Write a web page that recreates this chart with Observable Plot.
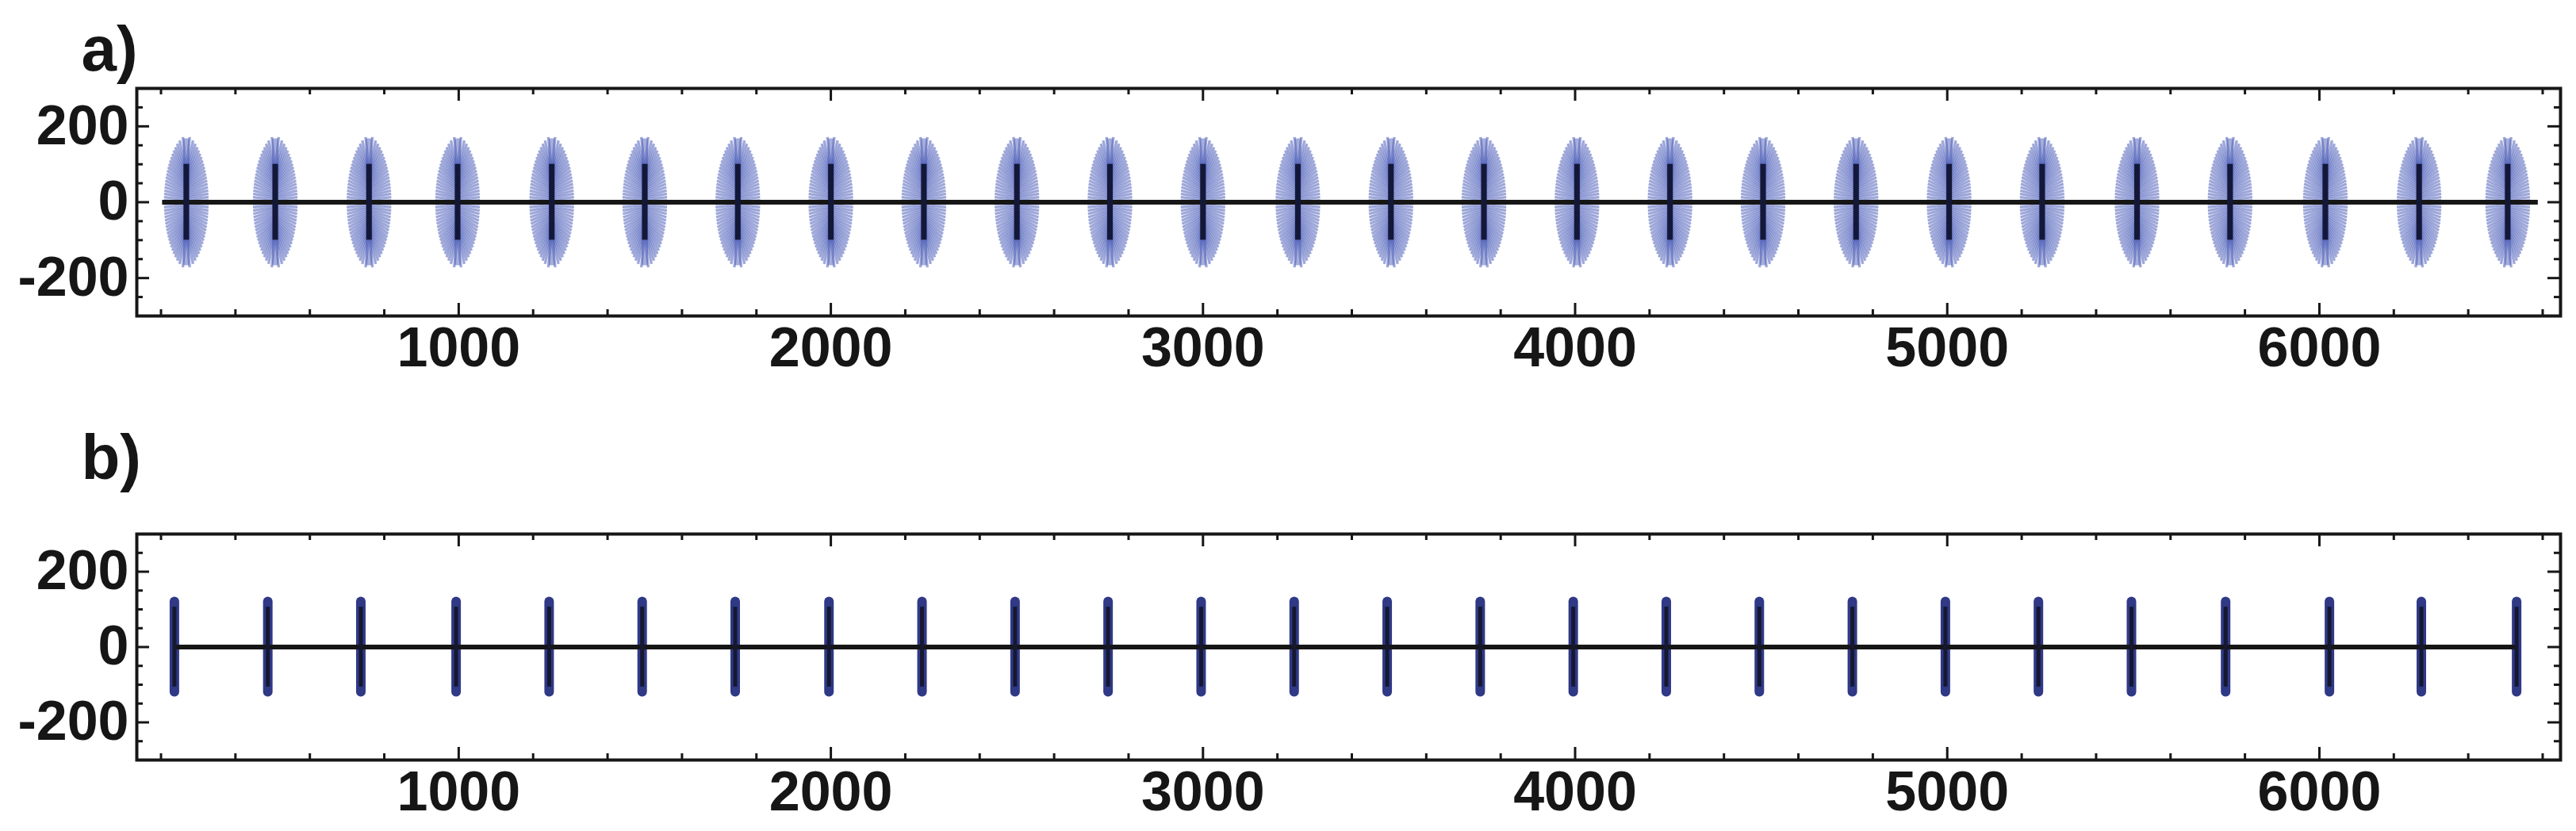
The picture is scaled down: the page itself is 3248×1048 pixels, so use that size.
<!DOCTYPE html>
<html>
<head>
<meta charset="utf-8">
<script src="https://cdn.jsdelivr.net/npm/d3@7"></script>
<script src="https://cdn.jsdelivr.net/npm/@observablehq/plot@0.6"></script>
<style>
  html, body { margin: 0; padding: 0; background: #ffffff; }
  #chart { width: 3248px; height: 1048px; overflow: hidden; background: #ffffff; }
  #chart svg { display: block; }
</style>
</head>
<body>
<div id="chart"></div>
<script>
// ---------- data ----------
const panelLabels = ["a)", "b)"];
const xDomain = [135, 6648];
const yDomain = [-300, 300];
const xMajorTicks = [1000, 2000, 3000, 4000, 5000, 6000];
const xMinorTicks = [200, 400, 600, 800, 1200, 1400, 1600, 1800, 2200, 2400, 2600, 2800,
  3200, 3400, 3600, 3800, 4200, 4400, 4600, 4800, 5200, 5400, 5600, 5800, 6200, 6400, 6600];
const yMajorTicks = [-200, 0, 200];
const yMinorTicks = [-250, -150, -100, -50, 50, 100, 150, 250];

// panel a: centres of the fans (x), fan half height / half width, stem half length
const centersA = [268, 507, 759, 997, 1250, 1500, 1750, 2000, 2250, 2500, 2750, 3000, 3255,
  3505, 3755, 4005, 4255, 4505, 4755, 5005, 5255, 5510, 5760, 6016, 6268, 6506];
const fanHalfHeight = 176;
const fanHalfWidth = 60;
const stemA = 100;
const baseLineA = [204, 6588];

// panel b: spike centres (x), spike half length, stem half length
const centersB = [236, 487, 737, 993, 1243, 1493, 1743, 1995, 2245, 2495, 2745, 2995, 3245,
  3495, 3745, 3995, 4245, 4495, 4745, 4995, 5245, 5495, 5748, 6027, 6274, 6530];
const spikeB = 120;
const stemB = 106;
const baseLineB = [236, 6530];

// ---------- helpers ----------
const W = 3248, ML = 172, MR = 20;
const INK = "#161616";
const FONT = "Arial, 'Liberation Sans', Helvetica, sans-serif";

function framePieces(innerH, innerW) {
  return [
    Plot.tickX(xMinorTicks, {x: d => d, insetTop: innerH - 8, stroke: INK, strokeWidth: 3}),
    Plot.tickX(xMajorTicks, {x: d => d, insetTop: innerH - 16, stroke: INK, strokeWidth: 3}),
    Plot.tickX(xMinorTicks, {x: d => d, insetBottom: innerH - 8, stroke: INK, strokeWidth: 3}),
    Plot.tickX(xMajorTicks, {x: d => d, insetBottom: innerH - 16, stroke: INK, strokeWidth: 3}),
    Plot.tickY(yMinorTicks, {y: d => d, insetRight: innerW - 8, stroke: INK, strokeWidth: 3}),
    Plot.tickY(yMajorTicks, {y: d => d, insetRight: innerW - 16, stroke: INK, strokeWidth: 3}),
    Plot.tickY(yMinorTicks, {y: d => d, insetLeft: innerW - 8, stroke: INK, strokeWidth: 3}),
    Plot.tickY(yMajorTicks, {y: d => d, insetLeft: innerW - 16, stroke: INK, strokeWidth: 3}),
    Plot.frame({stroke: INK, strokeWidth: 4}),
    Plot.axisX({ticks: xMajorTicks, tickSize: 0, tickPadding: 14, tickFormat: d => String(d),
      fontSize: 70, fontWeight: "bold", label: null, fill: INK}),
    Plot.axisY({ticks: yMajorTicks, tickSize: 0, tickPadding: 10, tickFormat: d => String(d),
      fontSize: 70, fontWeight: "bold", label: null, fill: INK})
  ];
}

function panel({label, height, mt, mb, labelDy, marks}) {
  const innerH = height - mt - mb, innerW = W - ML - MR;
  return Plot.plot({
    width: W, height,
    marginLeft: ML, marginRight: MR, marginTop: mt, marginBottom: mb,
    x: {domain: xDomain},
    y: {domain: yDomain},
    style: {background: "#ffffff", fontFamily: FONT, color: INK, overflow: "visible"},
    marks: [
      ...marks,
      ...framePieces(innerH, innerW),
      Plot.text([label], {frameAnchor: "top-left", text: d => d, dx: -70, dy: labelDy,
        textAnchor: "start", lineAnchor: "bottom", fontSize: 80, fontWeight: "bold", fill: INK})
    ]
  });
}

// ---------- panel a: fans of vectors ----------
const R = 40;
const rays = [];
for (const c of centersA) {
  for (let j = 0; j < R; j++) {
    const t = -1 + 2 * (j + 0.5) / R;
    const y2 = fanHalfHeight * t;
    const w = fanHalfWidth * Math.pow(1 - t * t, 0.62);
    for (const s of [-1, 1]) rays.push({x1: c, y1: y2 * 0.5, x2: c + s * w, y2});
  }
}

const chartA = panel({
  label: panelLabels[0], height: 520, mt: 111, mb: 122, labelDy: -23,
  marks: [
    Plot.link(rays, {x1: "x1", y1: "y1", x2: "x2", y2: "y2", stroke: "#5767bd",
      strokeOpacity: 0.58, strokeWidth: 3.3}),
    Plot.ruleX(centersA, {x: d => d, y1: -fanHalfHeight * 0.95, y2: fanHalfHeight * 0.95,
      stroke: "#4d5db5", strokeOpacity: 0.5, strokeWidth: 8}),
    Plot.ruleY([0], {x1: baseLineA[0], x2: baseLineA[1], stroke: INK, strokeWidth: 6}),
    Plot.ruleX(centersA, {x: d => d, y1: -stemA, y2: stemA, stroke: "#141838", strokeWidth: 7})
  ]
});

// ---------- panel b: narrow spikes ----------
const chartB = panel({
  label: panelLabels[1], height: 528, mt: 153, mb: 90, labelDy: -70,
  marks: [
    Plot.ruleX(centersB, {x: d => d, y1: -spikeB, y2: spikeB, stroke: "#2f3986",
      strokeWidth: 12, strokeLinecap: "round"}),
    Plot.ruleY([0], {x1: baseLineB[0], x2: baseLineB[1], stroke: INK, strokeWidth: 6}),
    Plot.ruleX(centersB, {x: d => d, y1: -stemB, y2: stemB, stroke: "#161830", strokeWidth: 5})
  ]
});

const root = document.getElementById("chart");
root.appendChild(chartA);
root.appendChild(chartB);
</script>
</body>
</html>
